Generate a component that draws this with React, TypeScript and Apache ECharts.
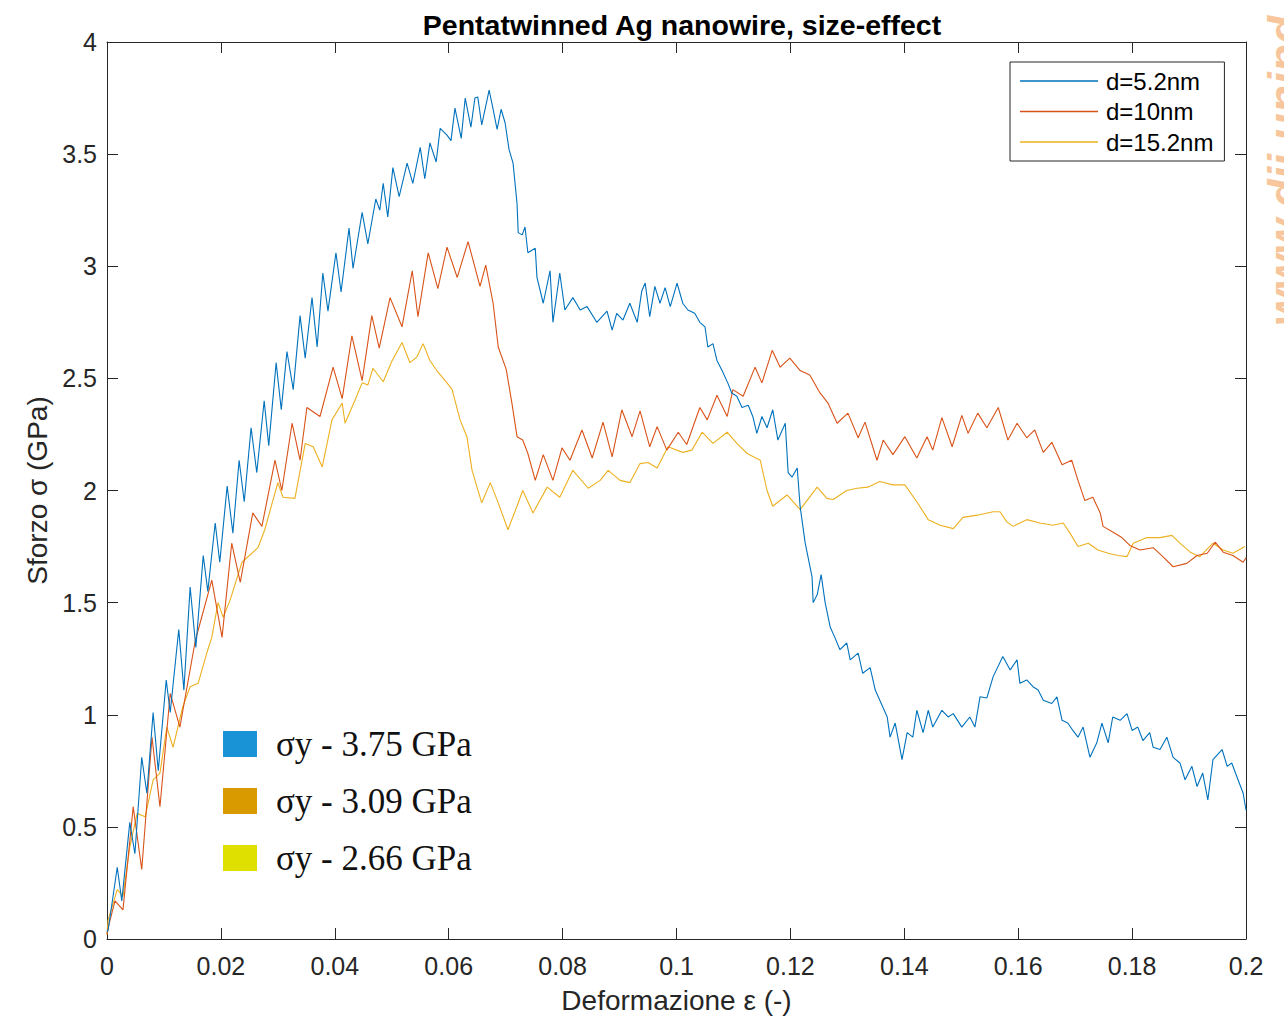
import React, { useEffect, useRef } from "react";
import * as echarts from "echarts";

const seriesNames = ["d=5.2nm", "d=10nm", "d=15.2nm"];
const lineColors = ["#0072BD", "#D95319", "#EDB120"];
const xTicks = [0, 0.02, 0.04, 0.06, 0.08, 0.1, 0.12, 0.14, 0.16, 0.18, 0.2];
const yTicks = [0, 0.5, 1, 1.5, 2, 2.5, 3, 3.5, 4];
const annotLabels = ["σy - 3.75 GPa", "σy - 3.09 GPa", "σy - 2.66 GPa"];
const annotColors = ["#1993d6", "#d99a00", "#e0e000"];

const strainBlue = [
  0, 0.0002, 0.0018, 0.0026, 0.004, 0.0049, 0.0061, 0.007, 0.0081, 0.009, 0.0104, 0.0111, 0.0126, 0.0135,
  0.0146, 0.0156, 0.0169, 0.0177, 0.019, 0.0198, 0.0211, 0.0221, 0.0232, 0.0241, 0.0253, 0.0263, 0.0276,
  0.0284, 0.0297, 0.0306, 0.0316, 0.0327, 0.0339, 0.0348, 0.036, 0.0369, 0.0379, 0.0388, 0.0402, 0.0411,
  0.0425, 0.0432, 0.0448, 0.0458, 0.0472, 0.0479, 0.0485, 0.0493, 0.0502, 0.0513, 0.0527, 0.0537, 0.055,
  0.0558, 0.0567, 0.0578, 0.0585, 0.0597, 0.0604, 0.0611, 0.0622, 0.0629, 0.0639, 0.0646, 0.0651, 0.0658,
  0.0671, 0.0678, 0.0685, 0.0692, 0.0699, 0.0706, 0.0713, 0.072, 0.0722, 0.0729, 0.0734, 0.0739, 0.0752,
  0.0755, 0.0766, 0.0778, 0.0783, 0.0795, 0.0804, 0.0818, 0.0831, 0.0843, 0.086, 0.0878, 0.0887, 0.0895,
  0.0906, 0.0918, 0.0931, 0.0939, 0.0945, 0.0953, 0.0962, 0.0971, 0.098, 0.0989, 0.1001, 0.1011, 0.102,
  0.1032, 0.1041, 0.105, 0.1055, 0.1064, 0.1071, 0.108, 0.109, 0.1097, 0.1106, 0.1115, 0.1126, 0.1134,
  0.1141, 0.115, 0.1159, 0.1169, 0.1178, 0.1191, 0.1196, 0.1203, 0.1212, 0.1217, 0.1226, 0.1238, 0.124,
  0.1247, 0.1254, 0.1261, 0.127, 0.1278, 0.1287, 0.1299, 0.1305, 0.1319, 0.1327, 0.134, 0.1349, 0.1357,
  0.137, 0.1375, 0.1384, 0.1396, 0.1405, 0.1415, 0.1422, 0.1433, 0.1442, 0.145, 0.1466, 0.1477, 0.1486,
  0.1501, 0.1515, 0.1524, 0.1533, 0.1545, 0.1556, 0.1573, 0.1586, 0.1598, 0.1603, 0.1615, 0.1626, 0.1635,
  0.1644, 0.1659, 0.1668, 0.1677, 0.1687, 0.1696, 0.1705, 0.1714, 0.1726, 0.1738, 0.1747, 0.1758, 0.1766,
  0.1779, 0.1791, 0.18, 0.181, 0.1819, 0.1831, 0.1837, 0.1849, 0.1861, 0.1872, 0.1884, 0.1893, 0.1905,
  0.1914, 0.1924, 0.1933, 0.1942, 0.1958, 0.1967, 0.1975, 0.1986, 0.1995, 0.2,
];
const stressBlue = [
  0.03, 0.04, 0.32, 0.17, 0.52, 0.38, 0.81, 0.65, 1.01, 0.75, 1.155, 1.01, 1.38, 1.11,
  1.57, 1.3, 1.71, 1.55, 1.855, 1.68, 2.02, 1.81, 2.135, 1.95, 2.28, 2.08, 2.4,
  2.2, 2.57, 2.36, 2.62, 2.45, 2.78, 2.59, 2.86, 2.64, 2.97, 2.8, 3.06, 2.885,
  3.17, 2.99, 3.24, 3.1, 3.3, 3.25, 3.37, 3.22, 3.44, 3.31, 3.46, 3.37, 3.53,
  3.39, 3.55, 3.465, 3.615, 3.585, 3.56, 3.705, 3.57, 3.75, 3.62, 3.75, 3.755, 3.63,
  3.785, 3.7, 3.61, 3.7, 3.64, 3.52, 3.46, 3.28, 3.15, 3.14, 3.175, 3.06, 3.08,
  2.95, 2.835, 2.98, 2.75, 2.97, 2.805, 2.86, 2.805, 2.82, 2.75, 2.8, 2.715, 2.79,
  2.76, 2.835, 2.75, 2.89, 2.925, 2.775, 2.91, 2.835, 2.905, 2.82, 2.925, 2.835, 2.805,
  2.79, 2.75, 2.73, 2.64, 2.655, 2.58, 2.535, 2.48, 2.435, 2.42, 2.37, 2.38, 2.33,
  2.255, 2.33, 2.28, 2.36, 2.225, 2.3, 2.08, 2.06, 2.1, 1.93, 1.765, 1.615, 1.5,
  1.535, 1.625, 1.5, 1.39, 1.345, 1.29, 1.32, 1.245, 1.275, 1.185, 1.21, 1.11, 1.065,
  0.99, 0.9, 0.963, 0.8, 0.92, 0.9, 1.02, 0.92, 1.02, 0.945, 1.02, 0.99, 1.005,
  0.945, 0.99, 0.945, 1.08, 1.075, 1.17, 1.26, 1.2, 1.245, 1.14, 1.155, 1.125, 1.11,
  1.065, 1.05, 1.08, 0.975, 0.963, 0.93, 0.9, 0.945, 0.81, 0.875, 0.963, 0.875, 0.99,
  0.975, 1.005, 0.93, 0.945, 0.885, 0.92, 0.855, 0.845, 0.9, 0.81, 0.785, 0.71, 0.77,
  0.68, 0.74, 0.62, 0.8, 0.845, 0.77, 0.785, 0.71, 0.65, 0.575,
];

const strainOrange = [
  0, 0.0002, 0.0014, 0.0028, 0.0046, 0.0061, 0.0079, 0.0093, 0.0111, 0.0128, 0.0155, 0.0184, 0.0202,
  0.0219, 0.0234, 0.0256, 0.0272, 0.0295, 0.0307, 0.0325, 0.0339, 0.0351, 0.0374, 0.0397, 0.0413, 0.043,
  0.0448, 0.0465, 0.0478, 0.0497, 0.0518, 0.0536, 0.0546, 0.0564, 0.0581, 0.0597, 0.0615, 0.0634, 0.0655,
  0.0665, 0.0678, 0.0687, 0.0701, 0.0711, 0.072, 0.073, 0.0739, 0.0752, 0.0766, 0.0783, 0.0799, 0.0813,
  0.0834, 0.0852, 0.0871, 0.0887, 0.0904, 0.0922, 0.0936, 0.0953, 0.0966, 0.0983, 0.1003, 0.1018, 0.1041,
  0.1054, 0.1071, 0.1089, 0.1099, 0.1117, 0.1138, 0.115, 0.1168, 0.1182, 0.1199, 0.1217, 0.1234, 0.1252,
  0.1266, 0.1282, 0.1301, 0.1319, 0.1331, 0.1352, 0.1363, 0.138, 0.1401, 0.1422, 0.144, 0.145, 0.1466,
  0.1484, 0.1501, 0.1512, 0.1529, 0.1545, 0.1565, 0.1582, 0.1598, 0.1615, 0.1629, 0.1644, 0.1659, 0.1677,
  0.1694, 0.1705, 0.1717, 0.1731, 0.1744, 0.1749, 0.1766, 0.1782, 0.1796, 0.1814, 0.1837, 0.1854, 0.1872,
  0.1896, 0.1914, 0.1932, 0.1946, 0.196, 0.1977, 0.1995, 0.2,
];
const stressOrange = [
  0.02, 0.05, 0.17, 0.13, 0.59, 0.31, 0.9, 0.59, 1.095, 0.945, 1.33, 1.6, 1.345,
  1.765, 1.59, 1.9, 1.84, 2.135, 2.0, 2.3, 2.135, 2.37, 2.33, 2.55, 2.41, 2.69,
  2.49, 2.78, 2.635, 2.86, 2.73, 2.98, 2.775, 3.06, 2.9, 3.085, 2.95, 3.11, 2.91,
  3.005, 2.835, 2.64, 2.54, 2.39, 2.24, 2.225, 2.165, 2.045, 2.16, 2.045, 2.19, 2.135,
  2.27, 2.145, 2.305, 2.15, 2.36, 2.24, 2.355, 2.195, 2.285, 2.18, 2.26, 2.205, 2.37,
  2.315, 2.425, 2.33, 2.45, 2.42, 2.55, 2.48, 2.625, 2.55, 2.59, 2.535, 2.515, 2.435,
  2.39, 2.3, 2.345, 2.235, 2.305, 2.135, 2.225, 2.16, 2.24, 2.145, 2.24, 2.18, 2.325,
  2.195, 2.335, 2.255, 2.345, 2.28, 2.37, 2.225, 2.3, 2.235, 2.27, 2.17, 2.215, 2.115,
  2.135, 2.045, 1.955, 1.97, 1.9, 1.84, 1.815, 1.79, 1.755, 1.735, 1.745, 1.705, 1.66,
  1.675, 1.71, 1.72, 1.77, 1.725, 1.71, 1.68, 1.7,
];

const strainYellow = [
  0, 0.0002, 0.0018, 0.0028, 0.004, 0.0053, 0.0067, 0.0081, 0.0093, 0.0105, 0.0116, 0.0133, 0.0146,
  0.016, 0.0177, 0.0184, 0.0195, 0.0204, 0.0216, 0.0237, 0.0265, 0.0277, 0.03, 0.0309, 0.033, 0.0348,
  0.0362, 0.0378, 0.0395, 0.0413, 0.0418, 0.0435, 0.0448, 0.0458, 0.0467, 0.0485, 0.05, 0.0518, 0.0532,
  0.0544, 0.0555, 0.0567, 0.0579, 0.0597, 0.0606, 0.062, 0.0632, 0.0641, 0.0658, 0.0673, 0.0687, 0.0704,
  0.072, 0.073, 0.0748, 0.0773, 0.0795, 0.0818, 0.0845, 0.0866, 0.088, 0.0901, 0.0918, 0.0936, 0.095,
  0.0966, 0.0985, 0.1011, 0.1027, 0.1045, 0.1064, 0.1089, 0.1106, 0.1124, 0.1147, 0.1159, 0.1169, 0.1194,
  0.1217, 0.1247, 0.1264, 0.1275, 0.1299, 0.1317, 0.1336, 0.1357, 0.138, 0.1401, 0.1422, 0.1442, 0.1463,
  0.1486, 0.1503, 0.1528, 0.1556, 0.1568, 0.158, 0.1591, 0.1615, 0.1638, 0.1661, 0.1679, 0.1691, 0.1705,
  0.1723, 0.174, 0.1758, 0.1775, 0.1791, 0.1802, 0.1826, 0.1849, 0.187, 0.1884, 0.1902, 0.1919, 0.1942,
  0.196, 0.1977, 0.1998,
];
const stressYellow = [
  0.02, 0.085, 0.22, 0.19, 0.41, 0.56, 0.545, 0.71, 0.74, 0.945, 0.855, 1.035, 1.125,
  1.14, 1.29, 1.345, 1.5, 1.435, 1.51, 1.68, 1.745, 1.825, 2.035, 1.97, 1.965, 2.21,
  2.195, 2.105, 2.315, 2.39, 2.3, 2.4, 2.48, 2.47, 2.545, 2.485, 2.575, 2.66, 2.57,
  2.595, 2.655, 2.58, 2.535, 2.48, 2.45, 2.315, 2.24, 2.09, 1.945, 2.035, 1.945, 1.825,
  1.93, 2.0, 1.9, 2.015, 1.97, 2.09, 2.01, 2.045, 2.09, 2.045, 2.035, 2.12, 2.125,
  2.1, 2.195, 2.17, 2.18, 2.26, 2.21, 2.26, 2.21, 2.165, 2.135, 2.0, 1.93, 1.98,
  1.915, 2.015, 1.965, 1.96, 2.0, 2.01, 2.015, 2.04, 2.025, 2.025, 1.95, 1.87, 1.845,
  1.83, 1.88, 1.89, 1.905, 1.905, 1.86, 1.84, 1.87, 1.855, 1.845, 1.855, 1.81, 1.75,
  1.765, 1.735, 1.72, 1.71, 1.705, 1.765, 1.79, 1.79, 1.8, 1.765, 1.725, 1.705, 1.765,
  1.735, 1.72, 1.75,
];

const strains = [strainBlue, strainOrange, strainYellow];
const stresses = [stressBlue, stressOrange, stressYellow];

const AXIS_COLOR = "#262626";
const SANS = "'Liberation Sans', Arial, Helvetica, sans-serif";

export default function App() {
  const ref = useRef<HTMLDivElement>(null);

  useEffect(() => {
    if (!ref.current) return;
    const chart = echarts.init(ref.current, null, { renderer: "svg" });

    const baseX = {
      type: "value",
      min: 0,
      max: 0.2,
      interval: 0.02,
      axisLine: { show: true, onZero: false, lineStyle: { color: AXIS_COLOR, width: 1 } },
      axisTick: { show: true, inside: true, length: 11, lineStyle: { color: AXIS_COLOR, width: 1 } },
      splitLine: { show: false },
    };
    const baseY = {
      type: "value",
      min: 0,
      max: 4,
      interval: 0.5,
      axisLine: { show: true, onZero: false, lineStyle: { color: AXIS_COLOR, width: 1 } },
      axisTick: { show: true, inside: true, length: 11, lineStyle: { color: AXIS_COLOR, width: 1 } },
      splitLine: { show: false },
    };

    const graphics: any[] = [];
    annotLabels.forEach((label, i) => {
      const cy = 744 + i * 57;
      graphics.push({
        type: "rect",
        shape: { x: 223, y: cy - 13, width: 34, height: 26 },
        style: { fill: annotColors[i] },
        z: 100,
      });
      graphics.push({
        type: "text",
        x: 276,
        y: cy,
        style: {
          text: label,
          font: "35px 'Liberation Serif', 'Times New Roman', serif",
          fill: "#111111",
          textAlign: "left",
          textVerticalAlign: "middle",
        },
        z: 100,
      });
    });
    graphics.push({
      type: "text",
      x: 1285,
      y: 326,
      rotation: Math.PI / 2,
      style: {
        text: "www.dii.unipd.it",
        font: "italic bold 46px 'Liberation Sans', Arial, sans-serif",
        fill: "rgba(243, 160, 90, 0.6)",
        textAlign: "left",
        textVerticalAlign: "middle",
      },
      z: 100,
    });

    chart.setOption({
      animation: false,
      backgroundColor: "#ffffff",
      title: {
        text: "Pentatwinned Ag nanowire, size-effect",
        left: 677,
        top: 5,
        textAlign: "center",
        textStyle: { fontFamily: SANS, fontSize: 28.5, fontWeight: "bold", color: "#000000" },
      },
      grid: { left: 107, right: 38, top: 42, bottom: 81, containLabel: false, outerBoundsMode: "none" },
      legend: {
        orient: "vertical",
        left: 1010,
        top: 62,
        data: seriesNames.map((n) => ({ name: n, icon: "rect" })),
        itemWidth: 78,
        itemHeight: 1.3,
        itemGap: 6.5,
        padding: [7, 11, 7, 10],
        borderColor: AXIS_COLOR,
        borderWidth: 1,
        backgroundColor: "#ffffff",
        textStyle: { fontFamily: SANS, fontSize: 24, color: "#000000", padding: [0, 0, 0, 3] },
        selectedMode: false,
      },
      xAxis: [
        {
          ...baseX,
          position: "bottom",
          name: "Deformazione ε (-)",
          nameLocation: "middle",
          nameGap: 47,
          nameTextStyle: { fontFamily: SANS, fontSize: 28, color: AXIS_COLOR },
          axisLabel: { show: true, margin: 14, fontFamily: SANS, fontSize: 25, color: AXIS_COLOR,
            customValues: xTicks },
        },
        { ...baseX, position: "top", axisLabel: { show: false } },
      ],
      yAxis: [
        {
          ...baseY,
          position: "left",
          name: "Sforzo σ (GPa)",
          nameLocation: "middle",
          nameGap: 56,
          nameTextStyle: { fontFamily: SANS, fontSize: 28, color: AXIS_COLOR },
          axisLabel: { show: true, margin: 10, fontFamily: SANS, fontSize: 25, color: AXIS_COLOR,
            customValues: yTicks },
        },
        { ...baseY, position: "right", axisLabel: { show: false } },
      ],
      series: seriesNames.map((name, i) => ({
        name,
        type: "line",
        xAxisIndex: 0,
        yAxisIndex: 0,
        data: strains[i].map((x, j) => [x, stresses[i][j]]),
        showSymbol: false,
        symbol: "none",
        lineStyle: { color: lineColors[i], width: 1.1 },
        itemStyle: { color: lineColors[i] },
        z: 3 - i,
      })),
      graphic: graphics,
    });

    return () => chart.dispose();
  }, []);

  return (
    <div
      ref={ref}
      style={{ position: "fixed", left: 0, top: 0, width: 1284, height: 1020, background: "#fff" }}
    />
  );
}
